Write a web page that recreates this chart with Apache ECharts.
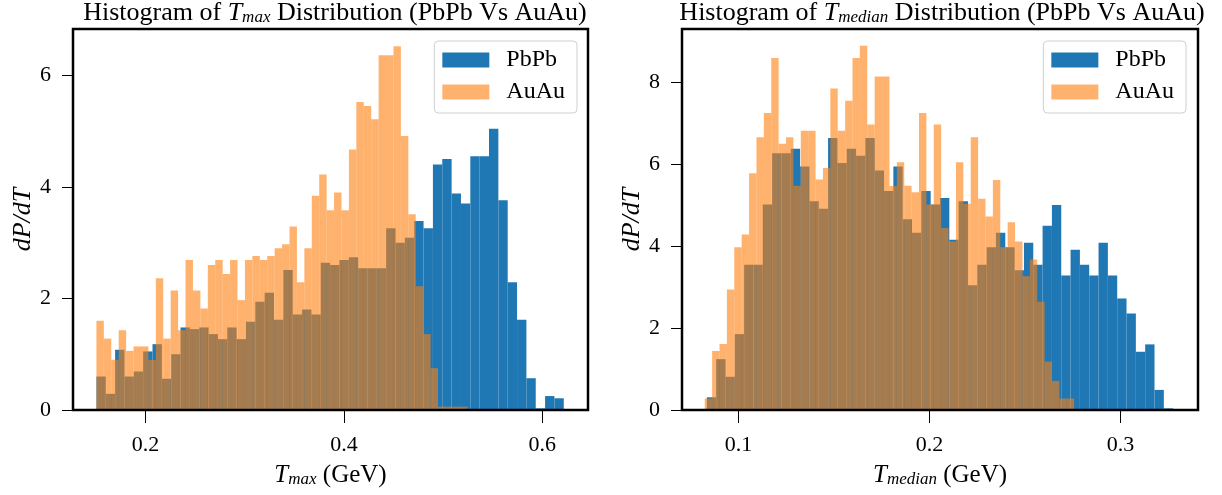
<!DOCTYPE html>
<html><head><meta charset="utf-8">
<script src="https://cdn.jsdelivr.net/npm/echarts@6/dist/echarts.min.js"></script>
<style>html,body{margin:0;padding:0;background:#fff}#c{width:1222px;height:495px}</style>
</head><body><div id="c"></div>
<script>
// ---- data (dP/dT per bin, 50 bins each) ----
const tmaxPbPb = [0.60,0.29,1.08,0.60,0.69,1.05,1.18,0.56,1.00,1.48,1.45,1.48,1.36,1.27,1.48,1.27,1.58,1.94,2.10,1.62,2.51,1.71,1.80,1.71,2.64,2.60,2.69,2.74,2.54,2.54,2.54,3.26,3.00,3.09,3.39,3.26,4.40,4.50,3.88,3.70,4.55,4.55,5.04,3.76,2.29,1.62,0.57,0.03,0.25,0.21];
const tmaxAuAu = [1.60,1.28,0.90,1.43,1.06,1.14,1.14,0.90,2.36,1.28,2.14,1.43,2.69,2.14,1.82,2.60,2.69,2.44,2.69,1.97,2.69,2.76,2.69,2.76,2.90,2.97,3.29,2.29,2.90,3.84,4.22,3.58,3.90,3.58,4.67,5.52,5.45,5.21,6.36,6.36,6.52,4.91,3.51,2.22,1.36,0.75,0.06,0.06,0.06,0.06];
const tmedPbPb = [0.31,1.24,0.81,1.85,3.54,3.54,5.01,6.26,6.26,6.37,5.94,5.09,4.91,6.63,6.02,6.37,6.20,6.63,5.84,5.34,5.94,4.65,4.32,5.34,5.01,5.17,4.15,5.09,3.04,3.54,3.97,4.32,3.97,3.41,4.08,3.54,4.49,5.00,3.28,3.91,3.54,3.28,4.08,3.28,2.72,2.35,1.42,1.60,0.49,0.04];
const tmedAuAu = [0.28,1.44,1.61,2.94,3.97,4.28,5.77,6.65,7.24,8.58,6.49,6.65,5.47,6.81,6.81,5.62,5.90,7.84,6.81,7.54,8.58,8.88,6.96,8.13,8.13,5.46,6.04,5.47,5.31,7.24,5.01,6.96,4.44,4.11,6.04,5.03,6.65,5.15,4.72,5.61,3.97,4.58,4.11,3.26,3.67,2.64,1.18,0.71,0.28,0.28];
// histogram ranges (first edge, last edge) in GeV
const tmaxPbPbRange = [0.1506, 0.6216];
const tmaxAuAuRange = [0.1506, 0.5248];
const tmedPbPbRange = [0.0835, 0.3275];
const tmedAuAuRange = [0.0824, 0.2757];
// axes
const tmaxXTicks = [0.2, 0.4, 0.6];
const tmedXTicks = [0.1, 0.2, 0.3];
const tmaxYTicks = [0, 2, 4, 6];
const tmedYTicks = [0, 2, 4, 6, 8];
const tmaxXRange = [0.127, 0.646];
const tmedXRange = [0.0705, 0.3405];
const tmaxYMax = 6.83;
const tmedYMax = 9.29;

const SERIF = "'Liberation Serif','DejaVu Serif',serif";
const BLUE = '#1f77b4';
const ORANGE = 'rgba(255,127,14,0.6)';

function bins(vals, range) {
  const n = vals.length, w = (range[1] - range[0]) / n;
  return vals.map((v, i) => [range[0] + i * w, range[0] + (i + 1) * w, v]);
}
function renderBar(params, api) {
  const p0 = api.coord([api.value(0), api.value(2)]);
  const p1 = api.coord([api.value(1), 0]);
  return {type: 'rect', shape: {x: p0[0], y: p0[1], width: p1[0] - p0[0], height: p1[1] - p0[1]},
          style: {fill: api.visual('color')}};
}
function histSeries(name, vals, range, idx, color) {
  return {type: 'custom', name, renderItem: renderBar, data: bins(vals, range),
          encode: {x: [0, 1], y: 2}, xAxisIndex: idx, yAxisIndex: idx, clip: true,
          itemStyle: {color}};
}
const rich = {
  n: {fontFamily: SERIF, fontSize: 26, fontWeight: 'normal', color: '#000'},
  i: {fontFamily: SERIF, fontSize: 26, fontWeight: 'normal', fontStyle: 'italic', color: '#000'},
  s: {fontFamily: SERIF, fontSize: 17, fontWeight: 'normal', fontStyle: 'italic', color: '#000', verticalAlign: 'bottom', lineHeight: 17}
};
const axRich = {
  n: {fontFamily: SERIF, fontSize: 25, color: '#000'},
  i: {fontFamily: SERIF, fontSize: 25, fontStyle: 'italic', color: '#000'},
  s: {fontFamily: SERIF, fontSize: 17, fontStyle: 'italic', color: '#000', verticalAlign: 'bottom', lineHeight: 17}
};
function xAxis(idx, range, ticks, sub) {
  return {type: 'value', gridIndex: idx, min: range[0], max: range[1],
    name: '{i|T}{s|' + sub + '}{n| (GeV)}', nameLocation: 'middle', nameGap: 53,
    nameTextStyle: {rich: axRich},
    axisLine: {show: false}, splitLine: {show: false},
    axisTick: {show: true, inside: false, length: 13, customValues: ticks, lineStyle: {color: '#000', width: 1}},
    axisLabel: {customValues: ticks, margin: 24, fontFamily: SERIF, fontSize: 22, color: '#000'}};
}
function yAxis(idx, max, ticks) {
  return {type: 'value', gridIndex: idx, min: 0, max: max,
    name: 'dP/dT', nameLocation: 'middle', nameGap: 36, nameRotate: 90,
    nameTextStyle: {fontFamily: SERIF, fontSize: 26, fontStyle: 'italic', color: '#000'},
    axisLine: {show: false}, splitLine: {show: false},
    axisTick: {show: true, inside: false, length: 11, customValues: ticks, lineStyle: {color: '#000', width: 1}},
    axisLabel: {customValues: ticks, margin: 22, fontFamily: SERIF, fontSize: 22, color: '#000'}};
}
function legend(right) {
  return {data: ['PbPb', 'AuAu'], orient: 'vertical', right: right, top: 41, icon: 'rect',
    itemWidth: 47, itemHeight: 15, itemGap: 8, padding: [7, 12, 9, 8],
    backgroundColor: '#fff', borderColor: '#d0d0d0', borderWidth: 1, borderRadius: 4,
    selectedMode: false,
    textStyle: {fontFamily: SERIF, fontSize: 24, color: '#000', padding: [0, 0, 0, 12]}};
}
const chart = echarts.init(document.getElementById('c'), null, {renderer: 'canvas'});
chart.setOption({
  animation: false,
  backgroundColor: '#fff',
  title: [
    {text: '{n|Histogram of }{i|T}{s|max}{n| Distribution (PbPb Vs AuAu)}', left: 330, textAlign: 'center', top: -5,
     textStyle: {fontWeight: 'normal', rich}},
    {text: '{n|Histogram of }{i|T}{s|median}{n| Distribution (PbPb Vs AuAu)}', left: 937, textAlign: 'center', top: -5,
     textStyle: {fontWeight: 'normal', rich}}
  ],
  grid: [
    {left: 73, width: 515, top: 29, bottom: 85, show: true, borderColor: '#000', borderWidth: 2.5, backgroundColor: 'transparent', z: 5},
    {left: 682, width: 516, top: 29, bottom: 85, show: true, borderColor: '#000', borderWidth: 2.5, backgroundColor: 'transparent', z: 5}
  ],
  xAxis: [xAxis(0, tmaxXRange, tmaxXTicks, 'max'), xAxis(1, tmedXRange, tmedXTicks, 'median')],
  yAxis: [yAxis(0, tmaxYMax, tmaxYTicks), yAxis(1, tmedYMax, tmedYTicks)],
  legend: [legend(1222 - 577), legend(1222 - 1186)],
  series: [
    histSeries('PbPb', tmaxPbPb, tmaxPbPbRange, 0, BLUE),
    histSeries('AuAu', tmaxAuAu, tmaxAuAuRange, 0, ORANGE),
    histSeries('PbPb', tmedPbPb, tmedPbPbRange, 1, BLUE),
    histSeries('AuAu', tmedAuAu, tmedAuAuRange, 1, ORANGE)
  ]
});
</script></body></html>
